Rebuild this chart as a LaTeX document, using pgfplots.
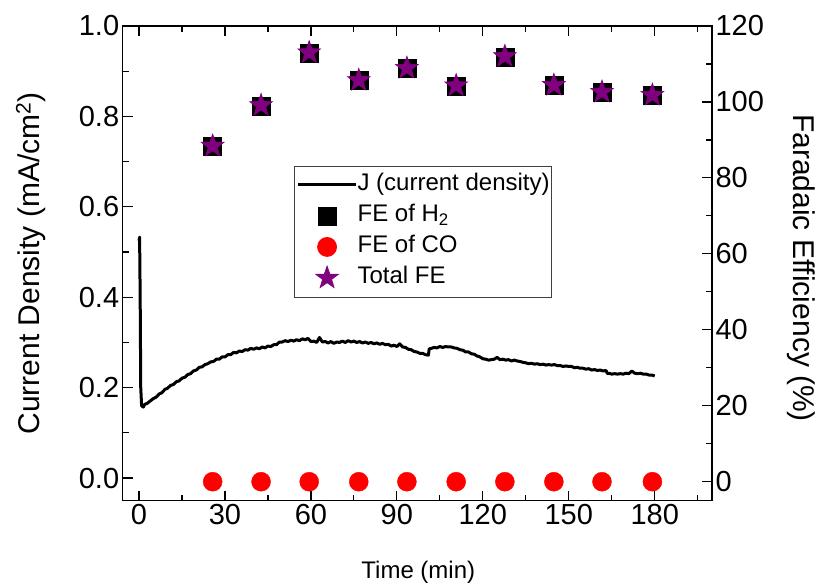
\documentclass[border=0pt]{standalone}
\usepackage{pgfplots}
\pgfplotsset{compat=1.18}
\usepackage{pgfplotstable}
\usepackage{fontspec}
\setmainfont{Liberation Sans}
\definecolor{fepurple}{RGB}{128,0,128}
\definecolor{fered}{RGB}{255,0,0}

\pgfdeclareplotmark{fstar}{%
  \pgfpathmoveto{\pgfqpointpolar{90}{\pgfplotmarksize}}%
  \pgfpathlineto{\pgfqpointpolar{126}{0.40\pgfplotmarksize}}%
  \pgfpathlineto{\pgfqpointpolar{162}{\pgfplotmarksize}}%
  \pgfpathlineto{\pgfqpointpolar{198}{0.40\pgfplotmarksize}}%
  \pgfpathlineto{\pgfqpointpolar{234}{\pgfplotmarksize}}%
  \pgfpathlineto{\pgfqpointpolar{270}{0.40\pgfplotmarksize}}%
  \pgfpathlineto{\pgfqpointpolar{306}{\pgfplotmarksize}}%
  \pgfpathlineto{\pgfqpointpolar{342}{0.40\pgfplotmarksize}}%
  \pgfpathlineto{\pgfqpointpolar{18}{\pgfplotmarksize}}%
  \pgfpathlineto{\pgfqpointpolar{54}{0.40\pgfplotmarksize}}%
  \pgfpathclose
  \pgfusepathqfillstroke
}

\pgfplotstableread{
t J
0 0.525
0.2 0.533
0.4 0.40
0.6 0.20
0.9 0.160
1.5 0.157
2 0.163
3 0.166
4 0.171
5 0.176
6 0.179
7 0.186
8 0.189
9 0.196
10 0.199
11 0.205
12 0.207
13 0.213
14 0.215
15 0.221
16 0.223
17 0.229
18 0.231
19 0.237
20 0.239
21 0.245
22 0.246
23 0.251
24 0.253
25 0.257
26 0.258
27 0.263
28 0.263
29 0.268
30 0.268
31 0.273
32 0.273
33 0.278
34 0.277
35 0.281
36 0.280
37 0.284
38 0.283
39 0.287
40 0.285
41 0.288
42 0.286
43 0.290
44 0.288
45 0.292
46 0.291
47 0.295
48 0.295
49 0.301
50 0.301
51 0.304
52 0.302
53 0.305
54 0.303
55 0.306
56 0.304
57 0.308
58 0.306
59 0.309
60 0.302
61 0.303
62 0.300
63 0.311
64 0.301
65 0.302
66 0.299
67 0.302
68 0.298
69 0.301
70 0.300
71 0.303
72 0.300
73 0.304
74 0.301
75 0.303
76 0.300
77 0.302
78 0.299
79 0.301
80 0.298
81 0.300
82 0.297
83 0.299
84 0.296
85 0.298
86 0.295
87 0.296
88 0.292
89 0.294
90 0.291
91 0.297
92 0.290
93 0.289
94 0.285
95 0.284
96 0.280
97 0.279
98 0.276
99 0.276
100 0.273
101 0.272
101.3 0.286
102 0.287
103 0.289
104 0.288
105 0.291
106 0.289
107 0.291
108 0.290
109 0.290
110 0.288
111 0.287
112 0.284
113 0.283
114 0.279
115 0.279
116 0.275
117 0.274
118 0.270
119 0.268
120 0.264
121 0.263
122 0.261
123 0.262
124 0.263
125 0.267
126 0.262
127 0.263
128 0.261
129 0.262
130 0.259
131 0.261
132 0.259
133 0.258
134 0.256
135 0.255
136 0.253
137 0.254
138 0.252
139 0.253
140 0.251
141 0.252
142 0.250
143 0.251
144 0.250
145 0.251
146 0.249
147 0.249
148 0.247
149 0.248
150 0.247
151 0.247
152 0.244
153 0.245
154 0.243
155 0.243
156 0.241
157 0.242
158 0.239
159 0.240
160 0.238
161 0.239
162 0.237
163 0.238
163.5 0.231
164 0.232
165 0.230
166 0.231
167 0.230
168 0.231
169 0.230
170 0.232
171 0.231
172 0.237
173 0.232
174 0.231
175 0.232
176 0.230
177 0.230
178 0.228
179 0.228
180 0.226
}\Jdata

\pgfplotstableread{
t H2 CO Total
25.7 88.3 0 88.4
42.6 99.0 0 99.1
59.4 112.9 0 113.0
76.7 105.6 0 105.7
93.5 108.8 0 108.9
110.7 104.2 0 104.3
127.7 111.9 0 112.0
144.8 104.3 0 104.4
161.6 102.5 0 102.6
179.2 101.7 0 101.8
}\FEdata

\begin{document}
\begin{tikzpicture}
\pgfplotsset{
  common/.style={
    scale only axis,
    width=589.3bp, height=474.7bp,
    xmin=-5.7, xmax=200,
    tick align=inside,
    major tick length=10bp,
    minor tick length=6bp,
    every tick/.style={black, line width=1.2bp},
    axis line style={black, line width=1.4bp},
    tick label style={font=\fontsize{29bp}{33bp}\selectfont},
    label style={font=\fontsize{30bp}{34bp}\selectfont},
    /pgf/number format/assume math mode=true,
  }
}
\begin{axis}[common,
  ymin=-0.05, ymax=1.0,
  xtick={0,30,...,210}, minor x tick num=1,
  ytick={0,0.2,...,1.0}, minor y tick num=1,
  xtick pos=both, xticklabel pos=lower,
  ytick pos=left,
  yticklabel style={/pgf/number format/.cd, fixed, fixed zerofill, precision=1},
  xlabel={Time (min)},
  ylabel={Current Density (mA/cm\textsuperscript{2})},
  every axis x label/.style={at={(axis description cs:0.5016,-0.150)}, anchor=center, font=\fontsize{24bp}{28bp}\selectfont},
  every axis y label/.style={at={(axis description cs:-0.1556,0.5)}, anchor=center, rotate=90, font=\fontsize{30bp}{34bp}\selectfont},
]
\addplot[black, line width=3bp, line join=round] table[x=t, y=J] {\Jdata};
\end{axis}
\begin{axis}[common,
  ymin=-5, ymax=120,
  hide x axis,
  ytick={0,20,...,120}, minor y tick num=1,
  ytick pos=right, yticklabel pos=right,
  ylabel={Faradaic Efficiency (\%)},
  every axis y label/.style={at={(axis description cs:1.151,0.49)}, anchor=center, rotate=-90, font=\fontsize{30bp}{34bp}\selectfont},
  legend image code/.code={\draw[mark repeat=2,mark phase=2,#1] plot coordinates {(0bp,0bp) (29bp,0bp) (58bp,0bp)};},
  legend style={at={(axis description cs:0.291,0.706)}, anchor=north west,
    draw=darkgray, line width=0.8bp, inner xsep=2bp, inner ysep=7bp,
    font=\fontsize{24bp}{28bp}\selectfont,
    row sep=7bp,
    nodes={inner sep=0pt, text height=18bp, text depth=6bp},
    /tikz/every even column/.append style={column sep=5bp}},
  legend cell align=left,
]
\addlegendimage{black, line width=3bp}
\addlegendentry{J (current density)}
\addplot[only marks, mark=square*, mark size=9bp, black] table[x=t, y=H2] {\FEdata};
\addlegendentry{FE of H\textsubscript{2}}
\addplot[only marks, mark=*, mark size=9.5bp, fered, draw=fered, fill=fered] table[x=t, y=CO] {\FEdata};
\addlegendentry{FE of CO}
\addplot[only marks, mark=fstar, mark size=12bp, fepurple, mark options={fill=fepurple, draw=fepurple, line width=0.6bp}] table[x=t, y=Total] {\FEdata};
\addlegendentry{Total FE}
\end{axis}
\pgfresetboundingbox
\path[use as bounding box] (-122.7bp,-85.3bp) rectangle (700.3bp,500.7bp);
\end{tikzpicture}
\end{document}
